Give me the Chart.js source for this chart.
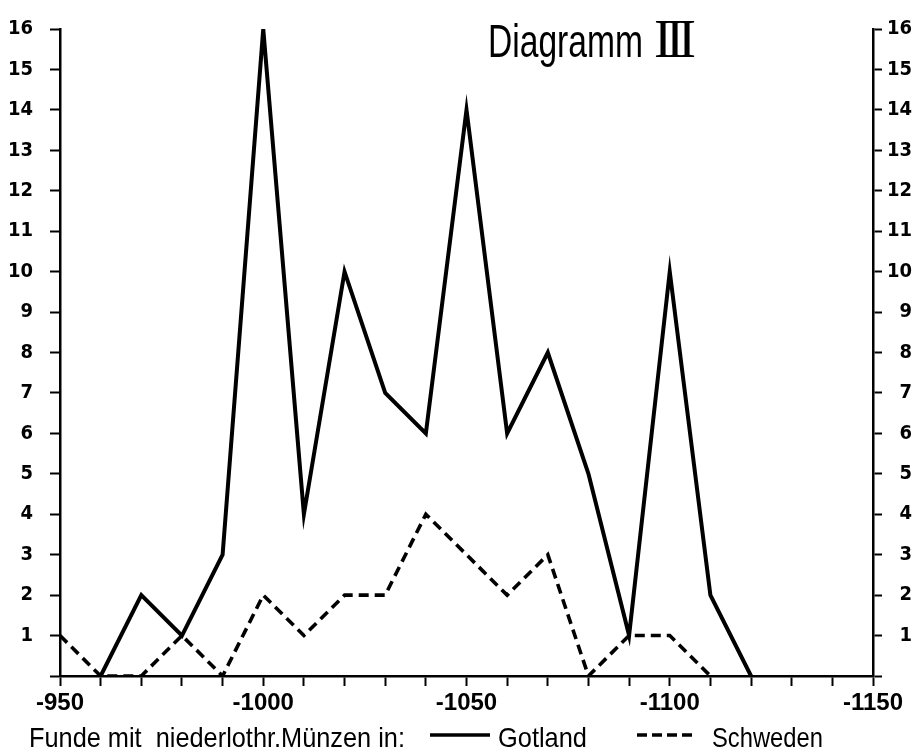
<!DOCTYPE html>
<html>
<head>
<meta charset="utf-8">
<script src="https://cdn.jsdelivr.net/npm/chart.js@4/dist/chart.umd.min.js"></script>
<style>
  html, body { margin: 0; padding: 0; background: #fff; }
  canvas { display: block; }
</style>
</head>
<body>
<canvas id="c" width="921" height="752"></canvas>
<script>
// ---- data ----
const years = [950, 960, 970, 980, 990, 1000, 1010, 1020, 1030, 1040, 1050,
               1060, 1070, 1080, 1090, 1100, 1110, 1120, 1130, 1140, 1150];
const gotland  = [null, 0, 2, 1, 3, 16, 4, 10, 7, 6, 14, 6, 8, 5, 1, 10, 2, 0, null, null, null];
const schweden = [1, 0, 0, 1, 0, 2, 1, 2, 2, 4, 3, 2, 3, 0, 1, 1, 0, null, null, null, null];
const xTickLabels = ['-950', '-1000', '-1050', '-1100', '-1150'];
const yTickValues = [1, 2, 3, 4, 5, 6, 7, 8, 9, 10, 11, 12, 13, 14, 15, 16];
const seriesNames = ['Gotland', 'Schweden'];
const titleText = 'Diagramm';
const titleNumeral = 'III';
const legendPrefix = 'Funde mit  niederlothr.Münzen in:';

const SANS = '"Liberation Sans", Arial, sans-serif';
const COND = '"DejaVu Sans Condensed", "Liberation Sans", sans-serif';

const yTickCb = function (v) { return yTickValues.includes(v) ? String(v) : ''; };

function fillFit(ctx, text, x, y, w) {
  const m = ctx.measureText(text).width;
  ctx.save();
  ctx.translate(x, y);
  ctx.scale(w / m, 1);
  ctx.fillText(text, 0, 0);
  ctx.restore();
}

const annot = {
  id: 'annot',
  afterDraw(chart) {
    const ctx = chart.ctx;
    ctx.save();
    ctx.fillStyle = '#000';
    ctx.strokeStyle = '#000';
    ctx.textBaseline = 'alphabetic';
    ctx.textAlign = 'left';
    // title
    ctx.font = '47px ' + SANS;
    fillFit(ctx, titleText, 488, 57, 155);
    ctx.font = '54px "Liberation Serif", "DejaVu Serif", serif';
    ctx.letterSpacing = '-6px';
    fillFit(ctx, titleNumeral, 654, 57, 36);
    ctx.letterSpacing = '0px';
    // legend line
    ctx.font = '28px ' + SANS;
    fillFit(ctx, legendPrefix, 29, 747, 376);
    const ds = chart.data.datasets;
    ctx.lineWidth = 3.5;
    ctx.setLineDash(ds[0].borderDash || []);
    ctx.beginPath(); ctx.moveTo(430, 735); ctx.lineTo(490, 735); ctx.stroke();
    fillFit(ctx, ds[0].label, 498, 747, 89);
    ctx.setLineDash([10, 5]);
    ctx.beginPath(); ctx.moveTo(637, 735); ctx.lineTo(693, 735); ctx.stroke();
    ctx.setLineDash([]);
    fillFit(ctx, ds[1].label, 712, 747, 111);
    ctx.restore();
  }
};

new Chart(document.getElementById('c'), {
  type: 'line',
  data: {
    labels: years,
    datasets: [
      { label: seriesNames[0], data: gotland, borderColor: '#000', borderWidth: 4,
        pointRadius: 0, tension: 0, fill: false, spanGaps: false, borderDash: [],
        borderJoinStyle: 'miter' },
      { label: seriesNames[1], data: schweden, borderColor: '#000', borderWidth: 3.6,
        pointRadius: 0, tension: 0, fill: false, borderDash: [10, 6] }
    ]
  },
  options: {
    responsive: false,
    animation: false,
    devicePixelRatio: 1,
    layout: { padding: { left: 0, right: 9, top: 26, bottom: 40 } },
    plugins: { legend: { display: false }, tooltip: { enabled: false }, title: { display: false } },
    scales: {
      x: {
        type: 'category',
        offset: false,
        afterFit: (s) => { s.height = 36; },
        grid: { drawOnChartArea: false, drawTicks: true, tickLength: 10, tickWidth: 2, tickColor: '#000' },
        border: { display: true, color: '#000', width: 2.5 },
        ticks: {
          autoSkip: false, maxRotation: 0, minRotation: 0, padding: 3,
          color: '#000',
          font: { family: SANS, size: 24, weight: 'bold' },
          callback: function (v) {
            const lab = '-' + this.getLabelForValue(v);
            return xTickLabels.includes(lab) ? lab : '';
          }
        }
      },
      y: {
        position: 'left',
        min: 0, max: 16,
        afterFit: (s) => { s.width = 60; },
        grid: { drawOnChartArea: false, drawTicks: true, tickLength: 10, tickWidth: 2, tickColor: '#000' },
        border: { display: true, color: '#000', width: 2.5 },
        ticks: { stepSize: 1, padding: 17, color: '#000',
                 font: { family: COND, size: 20, weight: 'bold' }, callback: yTickCb }
      },
      y2: {
        position: 'right',
        min: 0, max: 16,
        afterFit: (s) => { s.width = 39; },
        grid: { drawOnChartArea: false, drawTicks: true, tickLength: 9, tickWidth: 2, tickColor: '#000' },
        border: { display: true, color: '#000', width: 2.5 },
        ticks: { stepSize: 1, padding: 5, crossAlign: 'far', color: '#000',
                 font: { family: COND, size: 20, weight: 'bold' }, callback: yTickCb }
      }
    }
  },
  plugins: [annot]
});
</script>
</body>
</html>
